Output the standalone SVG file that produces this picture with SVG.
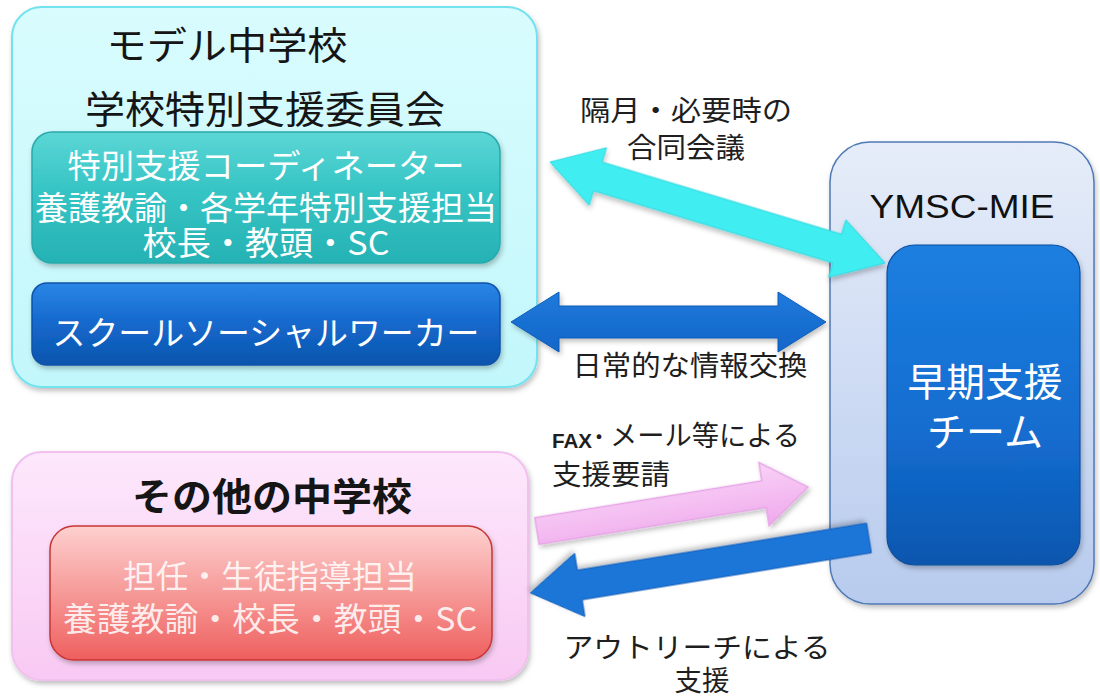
<svg xmlns="http://www.w3.org/2000/svg" width="1100" height="697" viewBox="0 0 1100 697">
<style>
.jp{font-family:"Noto Sans CJK JP","Noto Sans CJK SC",sans-serif;}
.ttl{font-size:38px;fill:#151515;}
.wt{font-size:33px;fill:#ffffff;}
.lbl{font-size:28px;fill:#1e1e1e;}
</style>
<defs>
<filter id="sh" x="-10%" y="-10%" width="120%" height="130%">
<feDropShadow dx="1.5" dy="3" stdDeviation="2.5" flood-color="#000" flood-opacity="0.25"/>
</filter>
<linearGradient id="gCyanBox" x1="0" y1="0" x2="0" y2="1">
<stop offset="0" stop-color="#d9fcfe"/><stop offset="1" stop-color="#c2f7fb"/>
</linearGradient>
<linearGradient id="gTeal" x1="0" y1="0" x2="0" y2="1">
<stop offset="0" stop-color="#5cd6d6"/><stop offset="0.45" stop-color="#36c4c4"/><stop offset="1" stop-color="#26b2b4"/>
</linearGradient>
<linearGradient id="gBlue" x1="0" y1="0" x2="0" y2="1">
<stop offset="0" stop-color="#2a86e6"/><stop offset="0.5" stop-color="#1468cc"/><stop offset="1" stop-color="#0d55ad"/>
</linearGradient>
<linearGradient id="gBlueTall" x1="0" y1="0" x2="0" y2="1">
<stop offset="0" stop-color="#1c7fe0"/><stop offset="0.6" stop-color="#136ccf"/><stop offset="1" stop-color="#0c56ae"/>
</linearGradient>
<linearGradient id="gYm" x1="0" y1="0" x2="0" y2="1">
<stop offset="0" stop-color="#e6edf9"/><stop offset="1" stop-color="#b8cbee"/>
</linearGradient>
<linearGradient id="gPink" x1="0" y1="0" x2="0" y2="1">
<stop offset="0" stop-color="#fde8fc"/><stop offset="1" stop-color="#f8c9f3"/>
</linearGradient>
<linearGradient id="gRed" x1="0" y1="0" x2="0" y2="1">
<stop offset="0" stop-color="#fdd0cf"/><stop offset="0.5" stop-color="#f69a98"/><stop offset="1" stop-color="#ee5f5e"/>
</linearGradient>
<linearGradient id="gArrBlue" x1="0" y1="-1" x2="0" y2="1" gradientUnits="objectBoundingBox">
<stop offset="0" stop-color="#2f8ff0"/><stop offset="1" stop-color="#1166c8"/>
</linearGradient>
<linearGradient id="gArrPink" x1="0" y1="0" x2="0" y2="1">
<stop offset="0" stop-color="#f9d2f7"/><stop offset="1" stop-color="#efa9ec"/>
</linearGradient>
</defs>

<g id="model-school">
<rect x="12" y="7" width="525" height="380" rx="30" fill="url(#gCyanBox)" stroke="#72e2ef" stroke-width="2" filter="url(#sh)"/>
<text class="jp ttl" x="227" y="59" text-anchor="middle" textLength="241" lengthAdjust="spacingAndGlyphs">モデル中学校</text>
<text class="jp ttl" x="265" y="123" text-anchor="middle" textLength="360" lengthAdjust="spacingAndGlyphs">学校特別支援委員会</text>
</g>

<g id="committee">
<rect x="32" y="132" width="468" height="131" rx="20" fill="url(#gTeal)" stroke="#2aa9ab" stroke-width="1.5" filter="url(#sh)"/>
<text class="jp wt" x="266" y="178" text-anchor="middle" textLength="397" lengthAdjust="spacingAndGlyphs">特別支援コーディネーター</text>
<text class="jp wt" x="266" y="220" text-anchor="middle" textLength="462" lengthAdjust="spacingAndGlyphs">養護教諭・各学年特別支援担当</text>
<text class="jp wt" x="266" y="255" text-anchor="middle" textLength="247" lengthAdjust="spacingAndGlyphs">校長・教頭・SC</text>
</g>

<g id="ssw">
<rect x="32" y="283" width="468" height="82" rx="15" fill="url(#gBlue)" stroke="#0d52a8" stroke-width="1.5" filter="url(#sh)"/>
<text class="jp wt" x="266" y="345" text-anchor="middle" textLength="427" lengthAdjust="spacingAndGlyphs">スクールソーシャルワーカー</text>
</g>

<g id="other-school">
<rect x="12" y="452" width="516" height="228" rx="30" fill="url(#gPink)" stroke="#f2c0ee" stroke-width="2" filter="url(#sh)"/>
<text class="jp ttl" x="272" y="510" text-anchor="middle" font-weight="bold" textLength="280" lengthAdjust="spacingAndGlyphs">その他の中学校</text>
</g>

<g id="other-staff">
<rect x="50" y="526" width="442" height="134" rx="24" fill="url(#gRed)" stroke="#c83535" stroke-width="1.5" filter="url(#sh)"/>
<text class="jp" x="270" y="588" font-size="32" fill="#fff" fill-opacity="0.85" text-anchor="middle" textLength="294" lengthAdjust="spacingAndGlyphs">担任・生徒指導担当</text>
<text class="jp" x="270" y="631" font-size="33" fill="#fff" fill-opacity="0.85" text-anchor="middle" textLength="414" lengthAdjust="spacingAndGlyphs">養護教諭・校長・教頭・SC</text>
</g>

<g id="ymsc">
<rect x="830" y="142" width="264" height="462" rx="40" fill="url(#gYm)" stroke="#4f79b5" stroke-width="1.5" filter="url(#sh)"/>
<text x="962" y="218" font-family="'Liberation Sans',Arial,sans-serif" font-size="34" fill="#111" text-anchor="middle" textLength="185" lengthAdjust="spacingAndGlyphs">YMSC-MIE</text>
</g>

<g id="early-team">
<rect x="887" y="245" width="193" height="320" rx="28" fill="url(#gBlueTall)" stroke="#0c4f9e" stroke-width="1.2" filter="url(#sh)"/>
<text class="jp" x="985" y="396" font-size="39" fill="#fff" text-anchor="middle" textLength="155" lengthAdjust="spacingAndGlyphs">早期支援</text>
<text class="jp" x="985" y="446" font-size="39" fill="#fff" text-anchor="middle" textLength="116" lengthAdjust="spacingAndGlyphs">チーム</text>
</g>

<g id="connectors">
<!-- cyan double arrow: joint meeting -->
<path transform="translate(550,162) rotate(16.78)" d="M0,0 L50,-30 L50,-15 L300,-15 L300,-30 L350,0 L300,30 L300,15 L50,15 L50,30 Z" fill="#40eef2" stroke="#2fd6dc" stroke-width="1" filter="url(#sh)"/>
<!-- blue double arrow: daily info exchange -->
<path transform="translate(511,322)" d="M0,0 L48,-30 L48,-16 L267,-16 L267,-30 L315,0 L267,30 L267,16 L48,16 L48,30 Z" fill="url(#gArrBlue)" stroke="#0f5cb8" stroke-width="1" filter="url(#sh)"/>
<!-- pink arrow: request -->
<path transform="translate(537,531) rotate(-9.22)" d="M0,-13.5 L230,-13.5 L230,-32 L274.5,0 L230,32 L230,13.5 L0,13.5 Z" fill="url(#gArrPink)" stroke="#e6a6e6" stroke-width="1.5" filter="url(#sh)"/>
<!-- blue arrow: outreach -->
<path transform="translate(869,538) rotate(170.78)" d="M0,-15 L293,-15 L293,-32 L343,0 L293,32 L293,15 L0,15 Z" fill="#1a76d8" stroke="#0f5cb8" stroke-width="1" filter="url(#sh)"/>

<text class="jp lbl" x="686" y="121" text-anchor="middle" textLength="212" lengthAdjust="spacingAndGlyphs">隔月・必要時の</text>
<text class="jp lbl" x="686" y="158" text-anchor="middle" textLength="118" lengthAdjust="spacingAndGlyphs">合同会議</text>
<text class="jp lbl" x="690" y="376" text-anchor="middle" textLength="235" lengthAdjust="spacingAndGlyphs">日常的な情報交換</text>
<text class="jp lbl" x="552" y="448"><tspan font-family="'Liberation Sans',Arial,sans-serif" font-weight="bold" font-size="21" textLength="40" lengthAdjust="spacingAndGlyphs">FAX</tspan><tspan x="592">･</tspan><tspan x="610" y="446" textLength="190" lengthAdjust="spacingAndGlyphs">メール等による</tspan></text>
<text class="jp lbl" x="552" y="485" textLength="118" lengthAdjust="spacingAndGlyphs">支援要請</text>
<text class="jp lbl" x="697" y="658" text-anchor="middle" textLength="267" lengthAdjust="spacingAndGlyphs">アウトリーチによる</text>
<text class="jp lbl" x="702" y="691" text-anchor="middle" textLength="55" lengthAdjust="spacingAndGlyphs">支援</text>
</g>
</svg>
